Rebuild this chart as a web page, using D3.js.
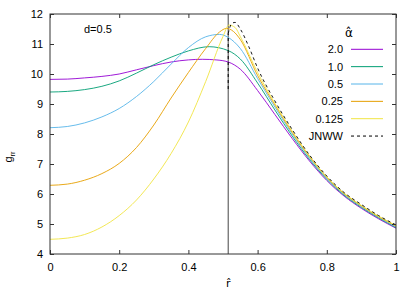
<!DOCTYPE html>
<html>
<head>
<meta charset="utf-8">
<script src="https://cdn.jsdelivr.net/npm/d3@7"></script>
<style>
  body { margin: 0; background: #fff; }
  text { font-family: "Liberation Sans", Arial, sans-serif; font-size: 11px; fill: #000; }
</style>
</head>
<body>
<script>
// g_rr(r), one array per alpha
const alpha2 = [[0,9.82],[0.05,9.83],[0.1,9.87],[0.15,9.92],[0.2,10.0],[0.25,10.14],[0.3,10.28],[0.35,10.4],[0.4,10.47],[0.44,10.49],[0.48,10.47],[0.515,10.4],[0.55,10.16],[0.6,9.45],[0.65,8.65],[0.7,7.85],[0.75,7.1],[0.8,6.45],[0.85,5.93],[0.9,5.52],[0.95,5.17],[1.0,4.86]];
const alpha1 = [[0,9.4],[0.05,9.42],[0.1,9.48],[0.15,9.59],[0.2,9.77],[0.25,10.03],[0.3,10.31],[0.35,10.56],[0.4,10.77],[0.46,10.91],[0.515,10.78],[0.55,10.5],[0.6,9.7],[0.65,8.8],[0.7,7.93],[0.75,7.15],[0.8,6.49],[0.85,5.96],[0.9,5.55],[0.95,5.2],[1.0,4.88]];
const alpha05 = [[0,8.21],[0.05,8.25],[0.1,8.37],[0.15,8.57],[0.2,8.85],[0.25,9.25],[0.3,9.75],[0.35,10.33],[0.4,10.88],[0.45,11.24],[0.49,11.32],[0.515,11.22],[0.55,10.85],[0.6,9.85],[0.65,8.9],[0.7,8.0],[0.75,7.2],[0.8,6.52],[0.85,5.99],[0.9,5.58],[0.95,5.22],[1.0,4.9]];
const alpha025 = [[0,6.29],[0.05,6.33],[0.1,6.46],[0.15,6.68],[0.2,7.02],[0.25,7.55],[0.3,8.3],[0.35,9.2],[0.4,10.05],[0.45,10.85],[0.49,11.4],[0.51,11.52],[0.53,11.42],[0.55,11.15],[0.6,9.95],[0.65,8.97],[0.7,8.05],[0.75,7.24],[0.8,6.55],[0.85,6.01],[0.9,5.6],[0.95,5.24],[1.0,4.93]];
const alpha0125 = [[0,4.49],[0.05,4.53],[0.1,4.65],[0.15,4.9],[0.2,5.28],[0.25,5.8],[0.3,6.5],[0.35,7.35],[0.4,8.4],[0.45,9.75],[0.5,11.25],[0.517,11.63],[0.535,11.55],[0.55,11.25],[0.6,10.05],[0.65,9.02],[0.7,8.1],[0.75,7.27],[0.8,6.57],[0.85,6.03],[0.9,5.62],[0.95,5.26],[1.0,4.95]];
const jnww = [[0.515,11.35],[0.525,11.68],[0.535,11.72],[0.55,11.5],[0.575,10.9],[0.6,10.2],[0.65,9.1],[0.7,8.15],[0.75,7.3],[0.8,6.6],[0.85,6.05],[0.9,5.65],[0.95,5.28],[1.0,4.97]];
const jnwwJump = [9.5, 11.35];   // vertical part of JNWW at contact

const r0 = 0.515;  // contact position (vertical line)
const seriesNames = ["2.0", "1.0", "0.5", "0.25", "0.125", "JNWW"];
const seriesData = [alpha2, alpha1, alpha05, alpha025, alpha0125, jnww];
const colors = ["#9400d3", "#009e73", "#56b4e9", "#e69f00", "#f0e442", "#000000"];
const xTicks = [0, 0.2, 0.4, 0.6, 0.8, 1];
const yTicks = [4, 5, 6, 7, 8, 9, 10, 11, 12];

const W = 417, H = 292;
const m = {left: 50, right: 21, top: 14, bottom: 38};

const svg = d3.select("body").append("svg")
    .attr("width", W).attr("height", H);

const x = d3.scaleLinear().domain([0, 1]).range([m.left, W - m.right]);
const y = d3.scaleLinear().domain([4, 12]).range([H - m.bottom, m.top]);

// clip so curves stay inside frame
svg.append("clipPath").attr("id", "clip")
    .append("rect").attr("x", x(0)).attr("y", y(12))
    .attr("width", x(1) - x(0)).attr("height", y(4) - y(12));

const line = d3.line()
    .x(d => x(d[0])).y(d => y(d[1]))
    .curve(d3.curveMonotoneX);

const plot = svg.append("g").attr("clip-path", "url(#clip)");

// vertical line at contact
plot.append("line")
    .attr("x1", x(r0)).attr("x2", x(r0))
    .attr("y1", y(4)).attr("y2", y(12))
    .attr("stroke", "#444").attr("stroke-width", 1);

seriesData.forEach((s, i) => {
    plot.append("path")
        .datum(s)
        .attr("d", line)
        .attr("fill", "none")
        .attr("stroke", colors[i])
        .attr("stroke-width", 0.9)
        .attr("stroke-dasharray", i == 5 ? "3,3" : null);
});
plot.append("line")
    .attr("x1", x(r0)).attr("x2", x(r0))
    .attr("y1", y(jnwwJump[0])).attr("y2", y(jnwwJump[1]))
    .attr("stroke", "#000").attr("stroke-dasharray", "3,3");

// axes, ticks inward, mirrored
const tk = 4;
svg.append("g").attr("transform", "translate(0," + y(4) + ")")
    .call(d3.axisBottom(x).tickValues(xTicks).tickFormat(d3.format("")).tickSizeInner(-tk).tickSizeOuter(0).tickPadding(9))
    .call(g => g.select(".domain").remove());
svg.append("g").attr("transform", "translate(0," + y(12) + ")")
    .call(d3.axisTop(x).tickValues(xTicks).tickFormat("").tickSizeInner(-tk).tickSizeOuter(0))
    .call(g => g.select(".domain").remove());
svg.append("g").attr("transform", "translate(" + x(0) + ",0)")
    .call(d3.axisLeft(y).tickValues(yTicks).tickFormat(d3.format("d")).tickSizeInner(-tk).tickSizeOuter(0).tickPadding(7))
    .call(g => g.select(".domain").remove());
svg.append("g").attr("transform", "translate(" + x(1) + ",0)")
    .call(d3.axisRight(y).tickValues(yTicks).tickFormat("").tickSizeInner(-tk).tickSizeOuter(0))
    .call(g => g.select(".domain").remove());
svg.selectAll(".tick line").attr("stroke", "#333");
svg.selectAll(".tick text").style("font-family", "Liberation Sans, Arial, sans-serif").style("font-size", "11px");

svg.append("rect")
    .attr("x", x(0)).attr("y", y(12))
    .attr("width", x(1) - x(0)).attr("height", y(4) - y(12))
    .attr("fill", "none").attr("stroke", "#333").attr("stroke-width", 1);

// labels
svg.append("text").attr("x", 84).attr("y", 33).text("d=0.5");
svg.append("text").attr("x", x(r0)).attr("y", 287).attr("text-anchor", "middle")
    .style("font-family", "DejaVu Sans").text("r\u0302");
const yl = svg.append("text").attr("transform", "translate(12,157) rotate(-90)")
    .attr("text-anchor", "middle");
yl.append("tspan").text("g");
yl.append("tspan").attr("dy", 3).style("font-size", "7.5px").text("rr");

// legend
const legX = 343, legY0 = 49.3, legStep = 17.35;
svg.append("text").attr("x", 349).attr("y", 37).attr("text-anchor", "middle")
    .style("font-family", "DejaVu Sans").style("font-size", "12px").text("\u03b1\u0302");
seriesNames.forEach((n, i) => {
    const yy = legY0 + i * legStep;
    svg.append("text").attr("x", legX).attr("y", yy + 4).attr("text-anchor", "end").text(n);
    svg.append("line")
        .attr("x1", 351).attr("x2", 383).attr("y1", yy).attr("y2", yy)
        .attr("stroke", colors[i]).attr("stroke-width", 1)
        .attr("stroke-dasharray", i == 5 ? "3,3" : null);
});
</script>
</body>
</html>
